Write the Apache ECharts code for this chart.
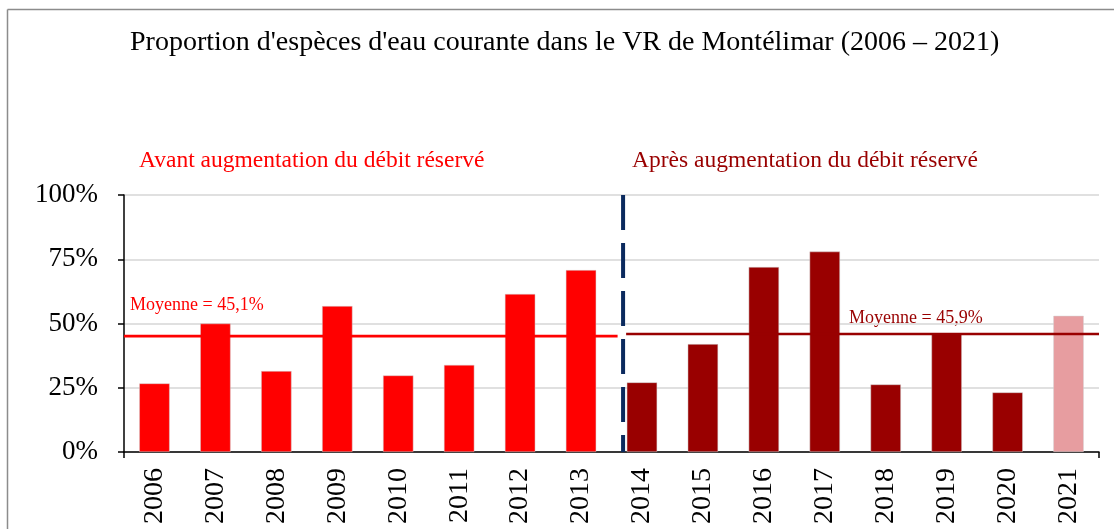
<!DOCTYPE html>
<html>
<head>
<meta charset="utf-8">
<title>Proportion d'espèces d'eau courante – VR de Montélimar</title>
<script src="https://cdn.jsdelivr.net/npm/echarts@6/dist/echarts.min.js"></script>
<style>
  html, body { margin: 0; padding: 0; background: #fff; }
  #chart { width: 1114px; height: 529px; }
</style>
</head>
<body>
<div id="chart"></div>
<script>
// Années suivies
const years = ['2006', '2007', '2008', '2009', '2010', '2011', '2012', '2013',
               '2014', '2015', '2016', '2017', '2018', '2019', '2020', '2021'];
// Proportion d'espèces d'eau courante (%)
const shares = [26.7, 50.0, 31.5, 56.8, 29.8, 33.9, 61.5, 70.8,
                27.1, 42.0, 72.0, 78.0, 26.3, 46.0, 23.2, 53.0];
// Période de chaque année : avant / après augmentation du débit réservé, 2021 à part
const periods = ['avant', 'avant', 'avant', 'avant', 'avant', 'avant', 'avant', 'avant',
                 'apres', 'apres', 'apres', 'apres', 'apres', 'apres', 'apres', 'partiel'];
// Moyennes par période (%)
const meanBefore = 45.1;
const meanAfter = 45.9;
// Graduations de l'axe vertical
const yTicks = [0, 25, 50, 75, 100];

const periodColors = { avant: '#ff0000', apres: '#990000', partiel: '#e79da0' };
const FONT = '"Liberation Serif", "Times New Roman", serif';

// Bornes des segments sur l'axe continu (une unité = une année)
const changeAt = 8.19;
const meanBeforeEnd = 8.1;
const meanAfterStart = 8.24;

const chart = echarts.init(document.getElementById('chart'), null, { renderer: 'canvas' });

chart.setOption({
  animation: false,
  backgroundColor: '#ffffff',
  grid: { left: 124, right: 15, top: 195, bottom: 77, containLabel: false },
  xAxis: [
    {
      type: 'category',
      data: years,
      axisLine: { lineStyle: { color: '#000', width: 1.5 } },
      axisTick: { alignWithLabel: true, length: 6, lineStyle: { color: '#000', width: 1.5 } },
      axisLabel: {
        rotate: 90, margin: 16, color: '#000',
        fontFamily: FONT, fontSize: 28
      }
    },
    {
      // axe continu pour les moyennes et la séparation entre périodes
      type: 'value', min: 0, max: years.length, interval: years.length,
      position: 'bottom',
      axisLine: { show: false },
      axisTick: { show: true, length: 6, lineStyle: { color: '#000', width: 1.5 } },
      axisLabel: { show: false },
      splitLine: { show: false }
    }
  ],
  yAxis: {
    type: 'value', min: yTicks[0], max: yTicks[yTicks.length - 1], interval: 25,
    axisLine: { show: true, lineStyle: { color: '#000', width: 1.5 } },
    axisTick: { show: true, length: 6, lineStyle: { color: '#000', width: 1.5 } },
    axisLabel: {
      margin: 26, color: '#000', fontFamily: FONT, fontSize: 27,
      formatter: v => v + '%'
    },
    splitLine: { lineStyle: { color: '#d6d6d6', width: 1.5 } }
  },
  series: [
    {
      type: 'bar',
      barWidth: '50%',
      data: shares.map((v, i) => ({
        value: v,
        itemStyle: {
          color: periodColors[periods[i]],
          borderColor: 'rgba(210,210,210,0.8)', borderWidth: 0.6
        }
      })),
      z: 2
    },
    {
      type: 'line', xAxisIndex: 1, symbol: 'none', z: 3,
      lineStyle: { color: '#ff0000', width: 2.6 },
      data: [[0, meanBefore], [meanBeforeEnd, meanBefore]]
    },
    {
      type: 'line', xAxisIndex: 1, symbol: 'none', z: 3,
      lineStyle: { color: '#990000', width: 2.6 },
      data: [[meanAfterStart, meanAfter], [years.length, meanAfter]]
    },
    {
      type: 'line', xAxisIndex: 1, symbol: 'none', z: 4,
      lineStyle: { color: '#0b2a5e', width: 4, type: [35, 13] },
      data: [[changeAt, yTicks[yTicks.length - 1]], [changeAt, yTicks[0]]]
    }
  ],
  graphic: [
    // cadre
    { type: 'line', shape: { x1: 7.5, y1: 9.5, x2: 1114, y2: 9.5 }, style: { stroke: '#8c8c8c', lineWidth: 1.5 }, silent: true },
    { type: 'line', shape: { x1: 7.5, y1: 9.5, x2: 7.5, y2: 529 }, style: { stroke: '#8c8c8c', lineWidth: 1.5 }, silent: true },
    {
      type: 'text', left: 130, top: 29,
      style: { text: "Proportion d'espèces d'eau courante dans le VR de Montélimar (2006 – 2021)",
               fill: '#000', font: '28px ' + FONT }
    },
    {
      type: 'text', left: 139, top: 149,
      style: { text: 'Avant augmentation du débit réservé', fill: '#ff0000', font: '23.5px ' + FONT }
    },
    {
      type: 'text', left: 632, top: 149,
      style: { text: 'Après augmentation du débit réservé', fill: '#990000', font: '23.5px ' + FONT }
    },
    {
      type: 'text', left: 130, top: 296,
      style: { text: 'Moyenne = ' + meanBefore.toFixed(1).replace('.', ',') + '%', fill: '#ff0000', font: '18px ' + FONT }
    },
    {
      type: 'text', left: 849, top: 309,
      style: { text: 'Moyenne = ' + meanAfter.toFixed(1).replace('.', ',') + '%', fill: '#990000', font: '18px ' + FONT }
    }
  ]
});
</script>
</body>
</html>
